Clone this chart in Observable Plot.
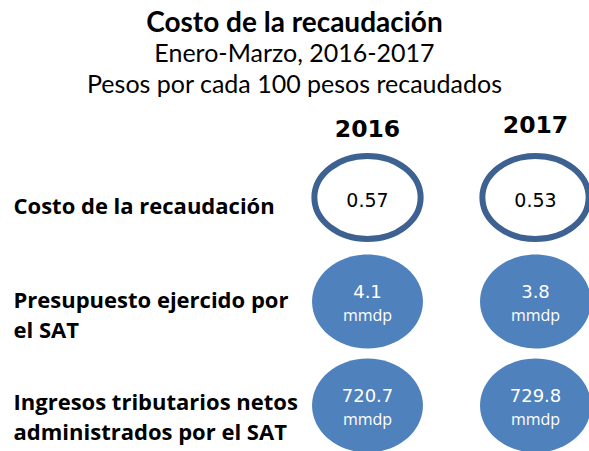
<!DOCTYPE html>
<html>
<head>
<meta charset="utf-8">
<script src="https://cdn.jsdelivr.net/npm/d3@7"></script>
<script src="https://cdn.jsdelivr.net/npm/@observablehq/plot@0.6"></script>
<style>
  html, body { margin: 0; padding: 0; background: #fff; }
  #wrap { width: 589px; height: 451px; overflow: hidden; }
  #head { height: 105px; box-sizing: border-box; padding-top: 6px; text-align: center; font-family: Lato, sans-serif; color: #000; }
  #head div { line-height: 31px; white-space: nowrap; }
  #head .t { font-size: 28px; font-weight: 700; }
  #head .s { font-size: 25px; font-weight: 400; }
  svg { display: block; }
</style>
</head>
<body>
<div id="wrap">
  <div id="head">
    <div class="t">Costo de la recaudación</div>
    <div class="s">Enero-Marzo, 2016-2017</div>
    <div class="s">Pesos por cada 100 pesos recaudados</div>
  </div>
  <div id="chart"></div>
</div>
<script>
const years = ["2016", "2017"];
const metrics = ["costo", "presupuesto", "ingresos"];
const rowLabels = [
  "Costo de la recaudación",
  "Presupuesto ejercido por\nel SAT",
  "Ingresos tributarios netos\nadministrados por el SAT"
];
const costo = [0.57, 0.53];
const presupuesto = [4.1, 3.8];
const ingresos = [720.7, 729.8];
const unit = "mmdp";

// ellipse symbol factory (aspect = width / height)
const ellipse = (aspect) => ({
  draw(context, size) {
    const ry = Math.sqrt(size / Math.PI);
    const rx = ry * aspect;
    const k = 0.5522848;
    const kx = rx * k, ky = ry * k;
    context.moveTo(rx, 0);
    context.bezierCurveTo(rx, ky, kx, ry, 0, ry);
    context.bezierCurveTo(-kx, ry, -rx, ky, -rx, 0);
    context.bezierCurveTo(-rx, -ky, -kx, -ry, 0, -ry);
    context.bezierCurveTo(kx, -ry, rx, -ky, rx, 0);
    context.closePath();
  }
});

const costoRows = years.map((y, i) => ({year: y, metric: metrics[0], v: costo[i]}));
const filledRows = [
  ...years.map((y, i) => ({year: y, metric: metrics[1], v: presupuesto[i]})),
  ...years.map((y, i) => ({year: y, metric: metrics[2], v: ingresos[i]}))
];
const labelRows = metrics.map((m, i) => ({metric: m, label: rowLabels[i]}));

const labelStyle = {frameAnchor: "left", dx: 13, textAnchor: "start", lineHeight: 1.37,
  fontFamily: "Open Sans", fontWeight: "bold", fontSize: 22, fill: "black"};
const yearStyle = {frameAnchor: "top", lineAnchor: "middle", text: d => d,
  fontFamily: "DejaVu Sans", fontWeight: "bold", fontSize: 23.5, fill: "black"};

const chart = Plot.plot({
  width: 589,
  height: 346,
  margin: 0,
  style: {background: "white"},
  x: {type: "point", domain: years, range: [367, 535], padding: 0, axis: null},
  y: {type: "point", domain: metrics, range: [92, 300], padding: 0, axis: null},
  marks: [
    // year headers
    Plot.text([years[0]], {x: d => d, dy: 23.5, ...yearStyle}),
    Plot.text([years[1]], {x: d => d, dy: 20, ...yearStyle}),
    // row labels
    Plot.text(labelRows.slice(0, 1), {y: "metric", text: "label", dy: 6.5, ...labelStyle}),
    Plot.text(labelRows.slice(1, 2), {y: "metric", text: "label", dy: 11.5, ...labelStyle}),
    Plot.text(labelRows.slice(2), {y: "metric", text: "label", dy: 10, ...labelStyle}),
    // outlined ellipses
    Plot.dot(costoRows, {x: "year", y: "metric", r: 41.5, symbol: ellipse(1.28),
      fill: "white", stroke: "#3D6191", strokeWidth: 6}),
    Plot.text(costoRows, {x: "year", y: "metric", dy: 3, text: d => d.v.toFixed(2),
      fontFamily: "DejaVu Sans", fontSize: 19, fill: "black"}),
    // filled ellipses
    Plot.dot(filledRows, {x: "year", y: "metric", r: 47, symbol: ellipse(1.18),
      fill: "#4F81BD", stroke: "none"}),
    Plot.text(filledRows, {x: "year", y: "metric", dy: -9, text: d => d.v.toFixed(1),
      fontFamily: "DejaVu Sans", fontSize: 18, fill: "white"}),
    Plot.text(filledRows, {x: "year", y: "metric", dy: 14, text: () => unit,
      fontFamily: "Open Sans", fontSize: 16, fill: "white"})
  ]
});
document.getElementById("chart").appendChild(chart);
</script>
</body>
</html>
